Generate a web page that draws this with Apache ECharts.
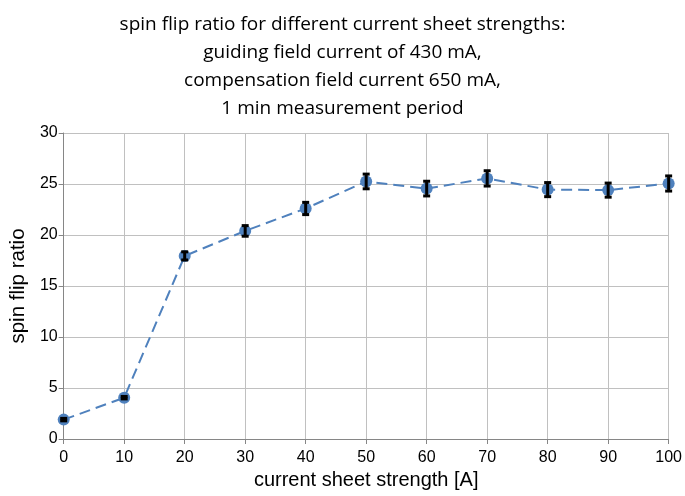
<!DOCTYPE html>
<html><head><meta charset="utf-8">
<script src="https://cdn.jsdelivr.net/npm/echarts@6/dist/echarts.min.js"></script>
<style>html,body{margin:0;padding:0;background:#fff}#c{width:685px;height:496px}</style>
</head><body><div id="c"></div>
<script>
var currents = [0, 10, 20, 30, 40, 50, 60, 70, 80, 90, 100];
var ratios = [1.9, 4.05, 17.95, 20.4, 22.6, 25.25, 24.55, 25.55, 24.45, 24.4, 25.05];
var errors = [0.12, 0.12, 0.4, 0.52, 0.6, 0.72, 0.72, 0.75, 0.69, 0.69, 0.74];
var titleLines = ['spin flip ratio for different current sheet strengths:', 'guiding field current of 430 mA,', 'compensation field current 650 mA,', '1 min measurement period'];

var pts = currents.map(function(c, i){ return [c, ratios[i]]; });
var errData = currents.map(function(c, i){ return [c, ratios[i] - errors[i], ratios[i] + errors[i]]; });

var chart = echarts.init(document.getElementById('c'));
chart.setOption({
  animation: false,
  title: {
    text: titleLines.join('\n'),
    left: 'center', top: 6,
    textStyle: {fontFamily: 'Open Sans', fontSize: 19, fontWeight: 'normal', color: '#000', lineHeight: 28}
  },
  grid: {left: 63, right: 13, top: 133, bottom: 57},
  xAxis: {
    type: 'value', min: 0, max: 100, interval: 10,
    name: 'current sheet strength [A]', nameLocation: 'middle', nameGap: 31,
    nameTextStyle: {fontFamily: 'Liberation Sans', fontSize: 20, color: '#000'},
    axisLine: {lineStyle: {color: '#868686'}},
    axisTick: {show: true, length: 5, lineStyle: {color: '#868686'}},
    axisLabel: {fontFamily: 'Liberation Sans', fontSize: 16, color: '#000', margin: 11},
    splitLine: {show: true, lineStyle: {color: '#c0c0c0'}}
  },
  yAxis: {
    type: 'value', min: 0, max: 30, interval: 5,
    name: 'spin flip ratio', nameLocation: 'middle', nameGap: 33, nameRotate: 90,
    nameTextStyle: {fontFamily: 'Liberation Sans', fontSize: 20.5, color: '#000'},
    axisLine: {show: true, lineStyle: {color: '#868686'}},
    axisTick: {show: true, length: 5, lineStyle: {color: '#868686'}},
    axisLabel: {fontFamily: 'Liberation Sans', fontSize: 16, color: '#000', margin: 6},
    splitLine: {show: true, lineStyle: {color: '#c0c0c0'}}
  },
  series: [
    {
      type: 'line', data: pts, symbol: 'circle', symbolSize: 12,
      itemStyle: {color: '#4F81BD'},
      lineStyle: {color: '#4F81BD', width: 2, type: [11, 6]},
      z: 2
    },
    {
      type: 'custom', data: errData, z: 5,
      renderItem: function(params, api){
        var x = api.value(0);
        var lo = api.coord([x, api.value(1)]);
        var hi = api.coord([x, api.value(2)]);
        var w = 3.5;
        var s = {stroke: '#000', lineWidth: 3};
        return {type: 'group', children: [
          {type: 'line', shape: {x1: lo[0], y1: lo[1], x2: hi[0], y2: hi[1]}, style: s},
          {type: 'line', shape: {x1: lo[0]-w, y1: lo[1], x2: lo[0]+w, y2: lo[1]}, style: s},
          {type: 'line', shape: {x1: hi[0]-w, y1: hi[1], x2: hi[0]+w, y2: hi[1]}, style: s}
        ]};
      }
    }
  ]
});
</script></body></html>
